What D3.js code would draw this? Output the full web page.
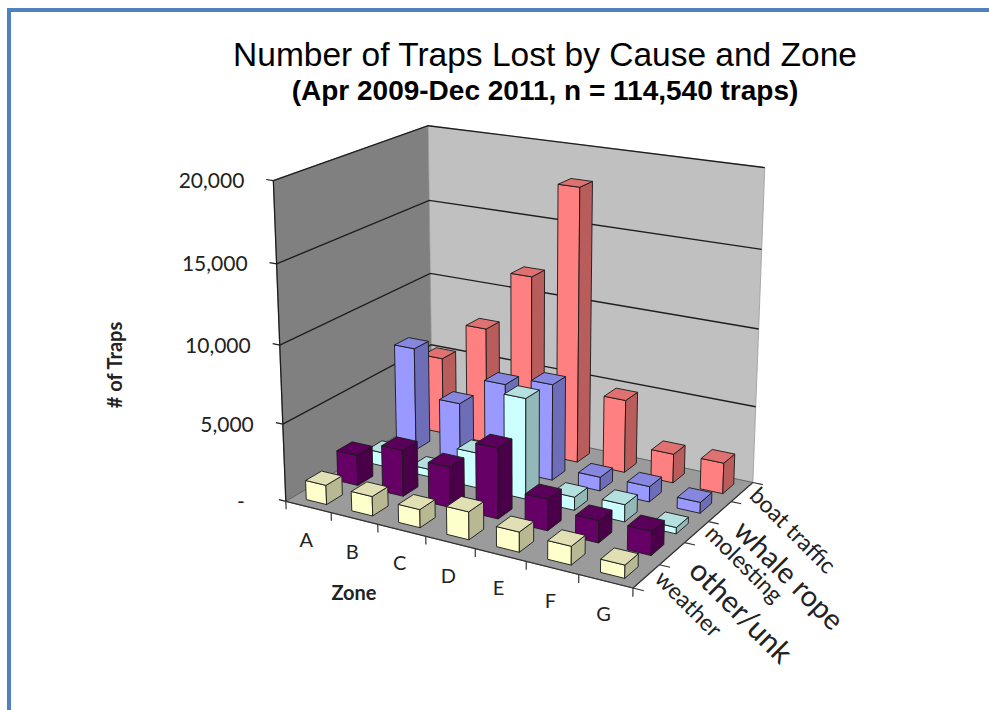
<!DOCTYPE html>
<html>
<head>
<meta charset="utf-8">
<script src="https://cdn.jsdelivr.net/npm/d3@7"></script>
<style>
  html, body { margin: 0; padding: 0; background: #fff; }
  svg { display: block; }
</style>
</head>
<body>
<svg id="chart" width="989" height="710"></svg>
<script>
// ---------- data ----------
const zones = ["A", "B", "C", "D", "E", "F", "G"];
// causes listed front row first, back row last
const causes = ["weather", "other/unk", "molesting", "whale rope", "boat traffic"];
const weather     = [1250, 1250, 1150, 1750, 1250, 1150, 800];
const otherUnk    = [2000, 3000, 2600, 4500, 2000, 1400, 1500];
const molesting   = [900, 500, 2300, 6500, 850, 1100, 400];
const whaleRope   = [6900, 3800, 5700, 6300, 900, 1000, 700];
const boatTraffic = [5200, 7800, 11800, 18000, 4800, 1900, 2000];
const valueTicks  = [0, 5000, 10000, 15000, 20000];

// ---------- styles ----------
const causeColors = ["#FFFFCC", "#660066", "#CCFFFF", "#9999FF", "#FF8080"];
const causeLabelSize = [23, 30, 23, 29, 23];
const causeLabelShift = [[7, 4], [15, 19], [7, 3], [12, 21], [6, 5]];

const seriesValues = [weather, otherUnk, molesting, whaleRope, boatTraffic];

const svg = d3.select("#chart");

// ---------- camera for the 3-D plot box ----------
// Box coordinates: X across zones (0..1), Y value (0..1), Z depth (0 front .. 1 back).
// Reference points of the box outline on screen, used to fit a perspective camera.
const boxRefs = [
  // floor corners
  [0, 0, 0, 287, 501], [1, 0, 0, 631, 591], [1, 0, 1, 753, 481], [0, 0, 1, 430, 416],
  // front-left (value axis) edge
  [0, 1, 0, 272, 181], [0, 0.75, 0, 276, 263], [0, 0.5, 0, 280, 345], [0, 0.25, 0, 284, 423],
  // back-left edge
  [0, 1, 1, 430, 125], [0, 0.75, 1, 430, 200], [0, 0.5, 1, 430, 273], [0, 0.25, 1, 430, 346],
  // back-right edge
  [1, 1, 1, 765, 168], [1, 0.75, 1, 761, 250], [1, 0.5, 1, 758, 330], [1, 0.25, 1, 755, 407],
  // zone axis divisions
  [1/7, 0, 0, 332, 513], [2/7, 0, 0, 378, 524], [3/7, 0, 0, 427, 536],
  [4/7, 0, 0, 475, 549], [5/7, 0, 0, 525, 563], [6/7, 0, 0, 576, 574],
  // depth axis divisions
  [1, 0, 0.2, 660, 564], [1, 0, 0.4, 687, 541], [1, 0, 0.6, 710, 521], [1, 0, 0.8, 733, 500]
];

function solveLinear(A, b) {
  const n = b.length;
  const M = A.map((row, i) => row.concat([b[i]]));
  for (let c = 0; c < n; c++) {
    let p = c;
    for (let r = c + 1; r < n; r++) if (Math.abs(M[r][c]) > Math.abs(M[p][c])) p = r;
    [M[c], M[p]] = [M[p], M[c]];
    for (let r = 0; r < n; r++) {
      if (r === c) continue;
      const f = M[r][c] / M[c][c];
      for (let k = c; k <= n; k++) M[r][k] -= f * M[c][k];
    }
  }
  return M.map((row, i) => row[n] / row[i]);
}

const CX = 500, CY = 400, CS = 300; // screen normalisation
const camera = (function () {
  const N = Array.from({length: 11}, () => new Array(11).fill(0));
  const rhs = new Array(11).fill(0);
  boxRefs.forEach(([X, Y, Z, sx, sy]) => {
    const x = (sx - CX) / CS, y = (sy - CY) / CS;
    const rows = [
      [[X, Y, Z, 1, 0, 0, 0, 0, -x * X, -x * Y, -x * Z], x],
      [[0, 0, 0, 0, X, Y, Z, 1, -y * X, -y * Y, -y * Z], y]
    ];
    rows.forEach(([a, t]) => {
      for (let i = 0; i < 11; i++) {
        rhs[i] += a[i] * t;
        for (let j = 0; j < 11; j++) N[i][j] += a[i] * a[j];
      }
    });
  });
  return solveLinear(N, rhs);
})();

function project(X, Y, Z) {
  const p = camera;
  const w = p[8] * X + p[9] * Y + p[10] * Z + 1;
  const u = (p[0] * X + p[1] * Y + p[2] * Z + p[3]) / w;
  const v = (p[4] * X + p[5] * Y + p[6] * Z + p[7]) / w;
  return [u * CS + CX, v * CS + CY];
}

// ---------- scales ----------
const xScale = d3.scaleBand().domain(zones).range([0, 1]).paddingInner(0.55).paddingOuter(0.275);
const zScale = d3.scaleBand().domain(causes).range([0, 1]).paddingInner(0.5).paddingOuter(0.25);
const yScale = d3.scaleLinear().domain([0, 20000]).range([0, 1]);

const line = d3.line();
const poly = pts => line(pts) + "Z";

// ---------- frame ----------
svg.append("rect")
  .attr("x", 9).attr("y", 10).attr("width", 1000).attr("height", 720)
  .attr("fill", "none").attr("stroke", "#4F81BD").attr("stroke-width", 4);

// ---------- titles ----------
svg.append("text")
  .attr("x", 545).attr("y", 66).attr("text-anchor", "middle")
  .attr("font-family", "'Liberation Sans', Arial, sans-serif").attr("font-size", 33.5)
  .attr("fill", "#000")
  .text("Number of Traps Lost by Cause and Zone");
svg.append("text")
  .attr("x", 545).attr("y", 100).attr("text-anchor", "middle")
  .attr("font-family", "'Liberation Sans', Arial, sans-serif").attr("font-size", 28)
  .attr("font-weight", "bold").attr("fill", "#000")
  .text("(Apr 2009-Dec 2011, n = 114,540 traps)");

const plot = svg.append("g");

// ---------- walls and floor ----------
plot.append("path")
  .attr("d", poly([project(0, 0, 0), project(0, 1, 0), project(0, 1, 1), project(0, 0, 1)]))
  .attr("fill", "#808080").attr("stroke", "#6a6a6a").attr("stroke-width", 0.8);
plot.append("path")
  .attr("d", poly([project(0, 0, 1), project(0, 1, 1), project(1, 1, 1), project(1, 0, 1)]))
  .attr("fill", "#c0c0c0").attr("stroke", "#9a9a9a").attr("stroke-width", 0.8);
plot.append("path")
  .attr("d", poly([project(0, 0, 0), project(1, 0, 0), project(1, 0, 1), project(0, 0, 1)]))
  .attr("fill", "#9b9b9b").attr("stroke", "#555").attr("stroke-width", 0.8);

// gridlines across both walls
plot.selectAll("path.grid")
  .data(valueTicks.filter(d => d > 0))
  .join("path")
  .attr("class", "grid")
  .attr("d", d => line([project(0, yScale(d), 0), project(0, yScale(d), 1), project(1, yScale(d), 1)]))
  .attr("fill", "none").attr("stroke", "#1e1e1e").attr("stroke-width", 1.4);

// value axis
plot.append("path")
  .attr("d", line([project(0, 0, 0), project(0, 1, 0)]))
  .attr("stroke", "#1e1e1e").attr("stroke-width", 1.3);
plot.selectAll("path.vtick")
  .data(valueTicks)
  .join("path")
  .attr("class", "vtick")
  .attr("d", d => line([project(0, yScale(d), 0), project(-0.022, yScale(d), 0)]))
  .attr("stroke", "#1e1e1e").attr("stroke-width", 1.2);

// zone axis (front floor edge)
plot.append("path")
  .attr("d", line([project(0, 0, 0), project(1, 0, 0)]))
  .attr("stroke", "#333").attr("stroke-width", 1.2);
plot.selectAll("path.ztick")
  .data(d3.range(zones.length + 1))
  .join("path")
  .attr("class", "ztick")
  .attr("d", i => {
    const X = i * xScale.step();
    return line([project(X, 0, 0), project(X, -0.026, 0)]);
  })
  .attr("stroke", "#333").attr("stroke-width", 1.2);

// cause axis (right floor edge)
plot.append("path")
  .attr("d", line([project(1, 0, 0), project(1, 0, 1)]))
  .attr("stroke", "#333").attr("stroke-width", 1.2);
plot.selectAll("path.ctick")
  .data(d3.range(causes.length + 1))
  .join("path")
  .attr("class", "ctick")
  .attr("d", j => {
    const Z = j * zScale.step();
    return line([project(1, 0, Z), project(1.028, 0, Z)]);
  })
  .attr("stroke", "#333").attr("stroke-width", 1.2);

// ---------- bars ----------
function shade(c, k) {
  const r = d3.rgb(c);
  return d3.rgb(r.r * k, r.g * k, r.b * k).formatHex();
}
function signedArea(pts) {
  let s = 0;
  for (let i = 0; i < pts.length; i++) {
    const a = pts[i], b = pts[(i + 1) % pts.length];
    s += a[0] * b[1] - b[0] * a[1];
  }
  return s / 2;
}

const bars = [];
for (let j = causes.length - 1; j >= 0; j--) {
  zones.forEach((zn, i) => bars.push({zone: zn, cause: causes[j], j, value: seriesValues[j][i]}));
}

const barG = plot.append("g");
bars.forEach(b => {
  const x0 = xScale(b.zone), x1 = x0 + xScale.bandwidth();
  const z0 = zScale(b.cause), z1 = z0 + zScale.bandwidth();
  const h = yScale(b.value);
  const col = causeColors[b.j];
  const faces = [
    {k: 1.0,  pts: [[x0, 0, z0], [x1, 0, z0], [x1, h, z0], [x0, h, z0]]},   // front
    {k: 0.72, pts: [[x1, 0, z0], [x1, 0, z1], [x1, h, z1], [x1, h, z0]]},   // right
    {k: 0.80, pts: [[x0, 0, z1], [x0, 0, z0], [x0, h, z0], [x0, h, z1]]},   // left
    {k: 0.88, pts: [[x0, h, z0], [x1, h, z0], [x1, h, z1], [x0, h, z1]]},   // top
    {k: 0.72, pts: [[x1, 0, z1], [x0, 0, z1], [x0, h, z1], [x1, h, z1]]}    // back
  ];
  const g = barG.append("g");
  faces.forEach(f => {
    const scr = f.pts.map(p => project(p[0], p[1], p[2]));
    if (signedArea(scr) < 0) {
      g.append("path")
        .attr("d", poly(scr))
        .attr("fill", shade(col, f.k))
        .attr("stroke", "#1a1a1a").attr("stroke-width", 0.9)
        .attr("stroke-linejoin", "round");
    }
  });
});

// ---------- axis labels ----------
const labelFont = "Lato, 'Open Sans', sans-serif";
const fmt = d3.format(",");
plot.selectAll("text.vlabel")
  .data(valueTicks)
  .join("text")
  .attr("class", "vlabel")
  .attr("x", d => project(0, yScale(d), 0)[0] - (d === 0 ? 41 : 29))
  .attr("y", d => project(0, yScale(d), 0)[1])
  .attr("dy", "0.36em")
  .attr("text-anchor", "end")
  .attr("font-family", labelFont).attr("font-size", 21).attr("fill", "#222")
  .text(d => d === 0 ? "-" : fmt(d));

plot.selectAll("text.zlabel")
  .data(zones)
  .join("text")
  .attr("class", "zlabel")
  .attr("x", d => project(xScale(d) + xScale.bandwidth() / 2, 0, 0)[0] - 2)
  .attr("y", d => project(xScale(d) + xScale.bandwidth() / 2, 0, 0)[1] + 33)
  .attr("dy", "0.36em")
  .attr("text-anchor", "middle")
  .attr("font-family", labelFont).attr("font-size", 20).attr("fill", "#222")
  .text(d => d);

svg.append("text")
  .attr("x", 354).attr("y", 593).attr("dy", "0.36em")
  .attr("text-anchor", "middle")
  .attr("font-family", labelFont).attr("font-size", 20).attr("font-weight", "bold")
  .attr("fill", "#222")
  .text("Zone");

svg.append("text")
  .attr("transform", "translate(115,365) rotate(-90)")
  .attr("dy", "0.36em")
  .attr("text-anchor", "middle")
  .attr("font-family", labelFont).attr("font-size", 20).attr("font-weight", "bold")
  .attr("fill", "#222")
  .text("# of Traps");

causes.forEach((c, j) => {
  const zc = zScale(c) + zScale.bandwidth() / 2;
  const [px, py] = project(1, 0, zc);
  const [dx, dy] = causeLabelShift[j];
  plot.append("text")
    .attr("transform", `translate(${px + dx},${py + dy}) rotate(45)`)
    .attr("font-family", labelFont).attr("font-size", causeLabelSize[j])
    .attr("fill", "#222")
    .text(c);
});
</script>
</body>
</html>
